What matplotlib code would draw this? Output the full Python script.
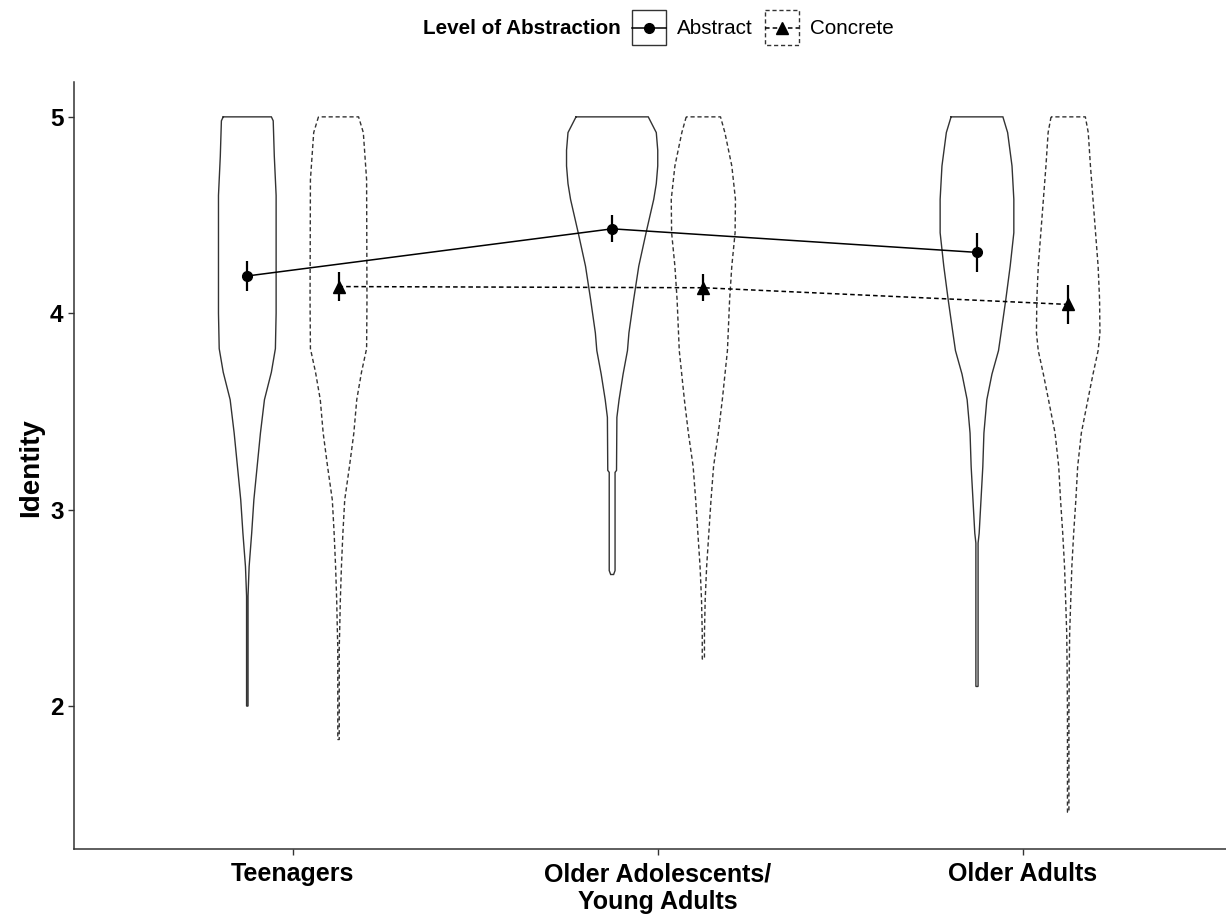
import numpy as np
import matplotlib
matplotlib.use("Agg")
import matplotlib.pyplot as plt
from matplotlib.patches import Rectangle
from matplotlib.lines import Line2D

plt.rcParams['font.family'] = ['Liberation Sans', 'DejaVu Sans']

# ---- data -------------------------------------------------------------
groups = ["Teenagers", "Older Adolescents/\nYoung Adults", "Older Adults"]
levels = ["Abstract", "Concrete"]

abstract_mean = [4.19, 4.43, 4.31]
abstract_se = [0.077, 0.068, 0.099]
concrete_mean = [4.136, 4.13, 4.045]
concrete_se = [0.074, 0.068, 0.099]

# violin outlines: score levels and half-widths (x-axis units)
teen_abs_y = [5.00, 4.98, 4.80, 4.60, 4.00, 3.82, 3.70, 3.56, 3.39, 3.22, 3.05, 2.88, 2.71, 2.56, 2.00]
teen_abs_w = [0.066, 0.071, 0.074, 0.079, 0.079, 0.077, 0.066, 0.047, 0.036, 0.027, 0.018, 0.012, 0.005, 0.002, 0.002]

teen_con_y = [5.00, 4.92, 4.68, 4.07, 3.82, 3.70, 3.56, 3.39, 3.22, 3.05, 2.88, 2.71, 2.54, 2.37, 2.30, 1.83]
teen_con_w = [0.055, 0.068, 0.077, 0.078, 0.077, 0.063, 0.050, 0.042, 0.030, 0.017, 0.012, 0.008, 0.005, 0.003, 0.002, 0.002]

oaya_abs_y = [5.00, 4.92, 4.83, 4.75, 4.66, 4.58, 4.41, 4.24, 4.07, 3.90, 3.81, 3.69, 3.56, 3.47, 3.20, 3.19, 2.69, 2.67]
oaya_abs_w = [0.099, 0.121, 0.125, 0.125, 0.121, 0.114, 0.093, 0.073, 0.059, 0.046, 0.042, 0.030, 0.019, 0.013, 0.012, 0.008, 0.008, 0.004]

oaya_con_y = [5.00, 4.92, 4.75, 4.58, 4.41, 4.24, 4.07, 3.81, 3.56, 3.39, 3.22, 3.05, 2.88, 2.71, 2.54, 2.37, 2.24]
oaya_con_w = [0.047, 0.059, 0.078, 0.088, 0.087, 0.078, 0.072, 0.066, 0.052, 0.041, 0.028, 0.021, 0.015, 0.009, 0.005, 0.003, 0.003]

oa_abs_y = [5.00, 4.92, 4.75, 4.58, 4.41, 4.24, 4.07, 3.90, 3.81, 3.69, 3.56, 3.39, 3.22, 3.05, 2.88, 2.83, 2.10]
oa_abs_w = [0.071, 0.084, 0.096, 0.101, 0.101, 0.091, 0.079, 0.066, 0.059, 0.041, 0.027, 0.019, 0.016, 0.011, 0.006, 0.003, 0.003]

oa_con_y = [5.00, 4.92, 4.75, 4.58, 4.41, 4.24, 4.07, 3.90, 3.81, 3.69, 3.56, 3.39, 3.22, 3.05, 2.88, 2.71, 2.54, 2.37, 2.20, 1.97, 1.46]
oa_con_w = [0.047, 0.055, 0.061, 0.068, 0.075, 0.082, 0.086, 0.087, 0.082, 0.068, 0.054, 0.036, 0.026, 0.021, 0.015, 0.010, 0.007, 0.004, 0.003, 0.002, 0.002]

violins = {
    "Abstract": [(teen_abs_y, teen_abs_w), (oaya_abs_y, oaya_abs_w), (oa_abs_y, oa_abs_w)],
    "Concrete": [(teen_con_y, teen_con_w), (oaya_con_y, oaya_con_w), (oa_con_y, oa_con_w)],
}

# ---- layout -----------------------------------------------------------
W, H = 1226, 916
fig = plt.figure(figsize=(W / 100, H / 100), dpi=100)
ax = fig.add_axes([74 / W, 1 - 849 / H, 1 - 74 / W, (849 - 82) / H])

dodge = {"Abstract": -0.125, "Concrete": 0.125}
dash = (0, (3, 2))
styles = {"Abstract": "-", "Concrete": dash}
markers = {"Abstract": "o", "Concrete": "^"}
msize = {"Abstract": 7, "Concrete": 8.5}
edge = "#333333"

xg = np.arange(1, len(groups) + 1)

# violins
for lev in levels:
    for gi, (vy, vw) in enumerate(violins[lev]):
        c = xg[gi] + dodge[lev]
        vy = np.asarray(vy)
        vw = np.asarray(vw)
        xs = np.concatenate([c - vw, (c + vw)[::-1], [c - vw[0]]])
        ys = np.concatenate([vy, vy[::-1], [vy[0]]])
        ax.plot(xs, ys, color=edge, lw=1.0, ls=styles[lev], zorder=1,
                solid_joinstyle='miter')

# mean lines, error bars and points
means = {"Abstract": abstract_mean, "Concrete": concrete_mean}
ses = {"Abstract": abstract_se, "Concrete": concrete_se}
for lev in levels:
    xs = xg + dodge[lev]
    m = np.asarray(means[lev])
    s = np.asarray(ses[lev])
    ax.plot(xs, m, color="black", lw=1.1, ls=styles[lev], zorder=2)
    ax.vlines(xs, m - s, m + s, color="black", lw=1.6, zorder=3)
    ax.plot(xs, m, ls="none", marker=markers[lev], ms=msize[lev],
            color="black", zorder=4)

# axes styling
ax.set_xlim(0.4, 1 + (W - 292.5) / 365)
ax.set_ylim(1.2725, 5.1775)
ax.set_xticks(xg)
ax.set_xticklabels(groups, fontsize=18, fontweight="bold", linespacing=1.2)
ax.set_yticks([2, 3, 4, 5])
ax.set_yticklabels(["2", "3", "4", "5"], fontsize=17.5, fontweight="bold")
for sp in ["top", "right"]:
    ax.spines[sp].set_visible(False)
for sp in ["left", "bottom"]:
    ax.spines[sp].set_color(edge)
    ax.spines[sp].set_linewidth(1.1)
ax.tick_params(axis="both", length=4.5, width=1.0, color=edge, labelcolor="black", pad=3)
ax.tick_params(axis="x", pad=5)

fig.text(31 / W, 1 - 468 / H, "Identity", rotation=90, ha="center", va="center",
         fontsize=20, fontweight="bold")

# ---- legend -----------------------------------------------------------
lg = fig.add_axes([0, 0, 1, 1], facecolor="none")
lg.set_xlim(0, W)
lg.set_ylim(H, 0)
lg.axis("off")
lg.text(423, 28, "Level of Abstraction", fontsize=14.9, fontweight="bold",
        ha="left", va="center")
key_x = {"Abstract": 632, "Concrete": 765}
for lev in levels:
    kx = key_x[lev]
    lg.add_patch(Rectangle((kx, 10), 34, 35, fill=False, ec=edge, lw=1.0,
                           ls=styles[lev]))
    lg.add_line(Line2D([kx, kx + 34], [28, 28], color="black", lw=1.1, ls=styles[lev]))
    lg.plot([kx + 17], [28], marker=markers[lev], ms=msize[lev], color="black", ls="none")
    lg.text(kx + 45, 28, lev, fontsize=14.9, ha="left", va="center")

fig.savefig("out.png", dpi=100)
